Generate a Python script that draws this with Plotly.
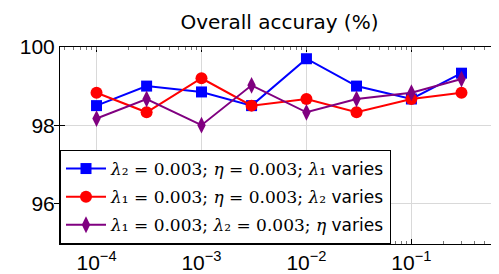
import plotly.graph_objects as go

x_vals = [1e-4, 3e-4, 1e-3, 3e-3, 1e-2, 3e-2, 1e-1, 3e-1]
blue_vals = [98.5, 99.0, 98.85, 98.5, 99.7, 99.0, 98.67, 99.33]
red_vals = [98.83, 98.33, 99.2, 98.5, 98.67, 98.33, 98.67, 98.83]
purple_vals = [98.17, 98.67, 98.0, 99.02, 98.33, 98.67, 98.83, 99.18]
series_names = [
    "<i>λ</i>₂ = 0.003; <i>η</i> = 0.003; <i>λ</i>₁ <span style='font-family:DejaVu Sans'>varies</span>",
    "<i>λ</i>₁ = 0.003; <i>η</i> = 0.003; <i>λ</i>₂ <span style='font-family:DejaVu Sans'>varies</span>",
    "<i>λ</i>₁ = 0.003; <i>λ</i>₂ = 0.003; <i>η</i> <span style='font-family:DejaVu Sans'>varies</span>",
]
x_tickvals = [1e-4, 1e-3, 1e-2, 1e-1]
x_ticktext = ["10<sup>−4</sup>", "10<sup>−3</sup>", "10<sup>−2</sup>", "10<sup>−1</sup>"]
y_tickvals = [96, 98, 100]

tick_font = dict(family="Liberation Sans", size=21, color="black")

fig = go.Figure()
styles = [("#0000ff", "square", 11), ("#ff0000", "circle", 12), ("#800080", "diamond-tall", 12)]
for i, (vals, name, (c, sym, sz)) in enumerate(zip([blue_vals, red_vals, purple_vals], series_names, styles)):
    fig.add_trace(go.Scatter(x=x_vals, y=vals, mode="lines+markers", name=name,
                             legendgroup=f"g{i}",
                             line=dict(color=c, width=2),
                             marker=dict(color=c, symbol=sym, size=sz)))

# invisible trace on top axis so minor ticks appear on the top edge too
fig.add_trace(go.Scatter(x=x_vals, y=blue_vals, xaxis="x2", mode="markers",
                         marker=dict(opacity=0), showlegend=False, hoverinfo="skip"))

fig.update_layout(
    width=499, height=274,
    margin=dict(l=52, r=8, t=39, b=36),
    paper_bgcolor="white", plot_bgcolor="white",
    title=dict(text="Overall accuray (%)", x=0.544, xanchor="center", y=0.95, yanchor="middle",
               font=dict(family="DejaVu Sans", size=20, color="black")),
    showlegend=True,
    legend=dict(x=0, y=0, xanchor="left", yanchor="bottom", bgcolor="white",
                bordercolor="black", borderwidth=1,
                font=dict(family="DejaVu Serif", size=17, color="black"),
                itemwidth=40, tracegroupgap=3),
    xaxis2=dict(type="log", range=[-4.348, -0.175], overlaying="x", side="top", anchor="y",
                showticklabels=False, showgrid=False, ticks="", tickvals=x_tickvals,
                minor=dict(ticks="inside", ticklen=3, tickcolor="#777", dtick="D1", showgrid=False)),
    xaxis=dict(type="log", range=[-4.348, -0.175], tickvals=x_tickvals, ticktext=x_ticktext,
               showgrid=True, gridcolor="#d9d9d9", gridwidth=1,
               showline=True, linecolor="black", linewidth=1, mirror="allticks",
               ticks="inside", ticklen=5, tickcolor="black",
               minor=dict(ticks="inside", ticklen=3, tickcolor="#777", dtick="D1", showgrid=False),
               tickfont=tick_font, zeroline=False),
    yaxis=dict(range=[94.96, 100], tickvals=y_tickvals,
               showgrid=True, gridcolor="#d9d9d9", gridwidth=1,
               showline=True, linecolor="black", linewidth=1, mirror="allticks",
               ticks="inside", ticklen=5, tickcolor="black",
               tickfont=tick_font, zeroline=False),
)

fig.write_html("out.html")
